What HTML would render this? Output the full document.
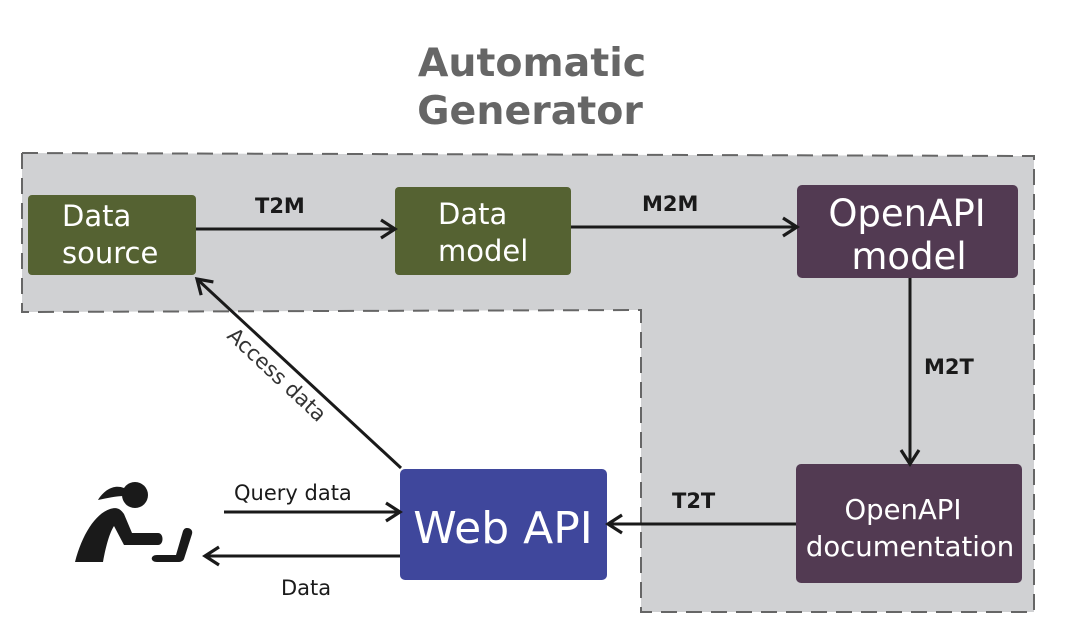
<!DOCTYPE html>
<html><head><meta charset="utf-8"><style>
html,body{margin:0;padding:0;background:#fff;}
svg{display:block;font-family:"DejaVu Sans","Liberation Sans",sans-serif;}
</style></head><body>
<svg width="1067" height="633" viewBox="0 0 1067 633" xmlns="http://www.w3.org/2000/svg">
<defs>
<marker id="ah" markerWidth="22" markerHeight="22" refX="17" refY="11" orient="auto" markerUnits="userSpaceOnUse">
<path d="M3,2 L17,11 L3,20" fill="none" stroke="#1a1a1a" stroke-width="3.2"/>
</marker>
</defs>
<text x="532" y="76" text-anchor="middle" font-size="39.5" font-weight="bold" fill="#666">Automatic</text>
<text x="530" y="124" text-anchor="middle" font-size="39.5" font-weight="bold" fill="#666">Generator</text>
<path d="M22,153 L1034,156 L1034,612 L641,612 L641,310 L22,312 Z" fill="#d0d1d3" stroke="#666" stroke-width="2" stroke-dasharray="16,9"/>
<rect x="28" y="195" width="168" height="80" rx="4" fill="#556232"/>
<text x="62" y="226" font-size="29" fill="#fff">Data</text>
<text x="62" y="263" font-size="29" fill="#fff">source</text>
<rect x="395" y="187" width="176" height="88" rx="4" fill="#556232"/>
<text x="438" y="224" font-size="29" fill="#fff">Data</text>
<text x="438" y="261" font-size="29" fill="#fff">model</text>
<rect x="797" y="185" width="221" height="93" rx="5" fill="#523a52"/>
<text x="907" y="226" text-anchor="middle" font-size="37" fill="#fff">OpenAPI</text>
<text x="909" y="269" text-anchor="middle" font-size="37" fill="#fff">model</text>
<rect x="796" y="464" width="226" height="119" rx="5" fill="#523a52"/>
<text x="903" y="519" text-anchor="middle" font-size="27.5" fill="#fff">OpenAPI</text>
<text x="910" y="556" text-anchor="middle" font-size="27.5" fill="#fff">documentation</text>
<rect x="400" y="469" width="207" height="111" rx="5" fill="#3f479c"/>
<text x="503" y="543" text-anchor="middle" font-size="44" fill="#fff">Web API</text>
<g stroke="#1a1a1a" stroke-width="3" fill="none">
<line x1="196" y1="229" x2="395" y2="229" marker-end="url(#ah)"/>
<line x1="571" y1="227" x2="797" y2="227" marker-end="url(#ah)"/>
<line x1="910" y1="278" x2="910" y2="464" marker-end="url(#ah)"/>
<line x1="796" y1="524" x2="608" y2="524" marker-end="url(#ah)"/>
<line x1="401" y1="468" x2="197" y2="279" marker-end="url(#ah)"/>
<line x1="224" y1="512" x2="400" y2="512" marker-end="url(#ah)"/>
<line x1="400" y1="556" x2="205" y2="556" marker-end="url(#ah)"/>
</g>
<g font-size="21" font-weight="bold" fill="#1a1a1a">
<text x="255" y="213">T2M</text>
<text x="642" y="211">M2M</text>
<text x="924" y="374">M2T</text>
<text x="672" y="508">T2T</text>
</g>
<text x="234" y="500" font-size="21" fill="#1a1a1a">Query data</text>
<text x="281" y="595" font-size="21" fill="#1a1a1a">Data</text>
<text transform="translate(226,337) rotate(43)" font-size="21" fill="#333">Access data</text>
<g fill="#1a1a1a">
<circle cx="135" cy="495" r="13"/>
<path d="M124,488 C114,484 104,490 98,500 C108,498 116,496 124,496 Z"/>
<path d="M110,509 C95,514 82,535 75,562 L103,562 C106,545 110,532 114,526 L124,545 L158,545 C164,545 164,533 158,533 L132,533 L124,514 C120,508 116,507 110,509 Z"/>
<path d="M187,528 C191,528 193,531 192,534 L184,559 C183,561 181,562 178,562 L157,562 C150,562 150,555 157,555 L176,555 L183,531 C184,529 185,528 187,528 Z"/>
</g>
</svg>
</body></html>
